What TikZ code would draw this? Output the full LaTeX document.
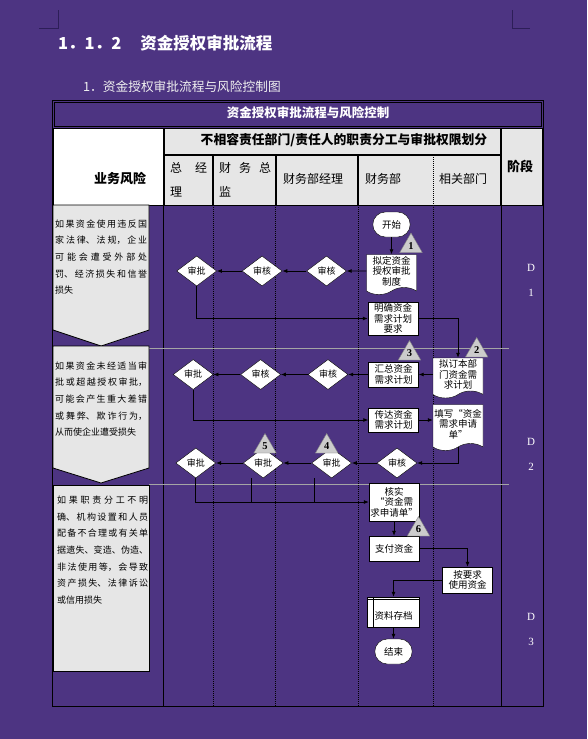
\documentclass[tikz,border=0pt]{standalone}
\usepackage{fontspec}
\setmainfont{Liberation Serif}
\newfontfamily\cjk{Noto Sans CJK SC}
\usetikzlibrary{positioning, arrows.meta, shapes.geometric, shapes.symbols, shapes.misc, calc}
\definecolor{bgpurple}{RGB}{77,52,130}
\definecolor{hdrgray}{RGB}{230,230,230}
\definecolor{rulegray}{RGB}{165,165,165}
\definecolor{markpurple}{RGB}{45,30,88}
\newcommand\risktext{\cjk\fontsize{9}{16.6}\selectfont\XeTeXlinebreaklocale "zh"\XeTeXlinebreakskip=0pt plus 4pt\relax}

\begin{document}
\begin{tikzpicture}[x=1pt, y=-1pt,
    every node/.style={font=\cjk\fontsize{9.5}{10.5}\selectfont},
    proc/.style={rectangle, draw, fill=white, minimum width=50pt, minimum height=25pt, inner sep=1pt, align=center},
    doc/.style={tape, tape bend top=none, tape bend height=7pt, draw, fill=white, minimum width=50pt, inner sep=1pt, align=center},
    term/.style={rounded rectangle, draw, fill=white, minimum width=44pt, minimum height=25pt},
    dec/.style={diamond, draw, fill=white, minimum width=40pt, minimum height=30pt, inner sep=0pt, font=\cjk\fontsize{9}{10}\selectfont},
    tri/.style={regular polygon, regular polygon sides=3, draw=gray, fill=gray!40, minimum size=26pt, inner sep=0pt, font=\rmfamily\bfseries\fontsize{10.5}{11}\selectfont},
    phase/.style={text=white, font=\rmfamily\fontsize{11}{11}\selectfont},
    colhead/.style={font=\cjk\fontsize{12}{24}\selectfont},
    risk/.style={draw, fill=hdrgray, line width=0.8pt},
    hdr/.style={draw, fill=hdrgray, line width=0.8pt},
    arrow/.style={-{Latex[length=5pt,width=4pt]}, line width=0.8pt},
    link/.style={line width=0.8pt},
    sep/.style={dash pattern=on 1pt off 1pt, line width=0.6pt}]

  \path[use as bounding box, fill=bgpurple] (0,0) rectangle (587,739);
  \draw[markpurple, line width=0.8pt] (39,28) -- (58,28) -- (58,10);
  \draw[markpurple, line width=0.8pt] (512,10) -- (512,28) -- (530,28);

  % titles
  \node[anchor=west, text=white, inner sep=0pt, font=\cjk\bfseries\fontsize{16.5}{18}\selectfont] (biaoti) at (58,43) {1．1．2\hspace{19pt}资金授权审批流程};
  \node[anchor=west, text=white!88!gray, inner sep=0pt, font=\cjk\fontsize{12.7}{14}\selectfont] (fubiaoti) at (83,87) {1．资金授权审批流程与风险控制图};

  % table frame and header
  \draw[line width=1pt] (52,100) rectangle (543,706);
  \draw[line width=0.8pt] (54,102) rectangle (541,126);
  \node[text=white, font=\cjk\bfseries\fontsize{12.5}{13}\selectfont] (biaotou) at (308,113) {资金授权审批流程与风险控制};
  \draw[fill=white, line width=0.8pt] (53,128) rectangle (163,205);
  \draw[hdr] (164,128) rectangle (500,154);
  \draw[hdr] (164,155) rectangle (212.5,205);
  \draw[hdr] (213.5,155) rectangle (275,205);
  \draw[hdr] (276,155) rectangle (357.5,205);
  \draw[hdr] (358.5,155) rectangle (500,205);
  \draw[sep] (433,155) -- (433,205);
  \draw[hdr] (501,128) rectangle (542,205);

  \node[font=\cjk\bfseries\fontsize{13}{14}\selectfont] (yewu) at (120,179) {业务风险};
  \node[font=\cjk\bfseries\fontsize{12.8}{14}\selectfont] (buxiang) at (344,140) {不相容责任部门/责任人的职责分工与审批权限划分};
  \node[colhead, anchor=north west, align=left, inner sep=0pt] (zongjingli) at (170,162) {总\hspace{13pt}经\\理};
  \node[colhead, anchor=north west, align=left, inner sep=0pt] (zongjian) at (219,162) {财\hspace{8pt}务\hspace{8pt}总\\监};
  \node[colhead] (jingli) at (313,179) {财务部经理};
  \node[colhead] (caiwubu) at (383,179) {财务部};
  \node[colhead] (xiangguan) at (463,179) {相关部门};
  \node[font=\cjk\bfseries\fontsize{13}{14}\selectfont] (jieduan) at (520,166) {阶段};

  % lanes
  \draw[line width=0.8pt] (163,205) -- (163,706);
  \draw[line width=0.8pt] (501,205) -- (501,706);
  \foreach \x in {213,275,358,433}
    \draw[sep] (\x,205) -- (\x,706);
  \draw[rulegray, line width=0.8pt] (149,348) -- (509,348);
  \draw[rulegray, line width=0.8pt] (149,484) -- (509,484);

  % risks
  \draw[risk] (53,205) -- (149,205) -- (149,330) -- (101,346) -- (53,330) -- cycle;
  \draw[risk] (53,346) -- (149,346) -- (149,468) -- (101,483) -- (53,468) -- cycle;
  \draw[risk] (53,485) rectangle (149,671);
  \node[anchor=north west, text width=92pt, align=justify, inner sep=0pt, font=\risktext] (risk1) at (55,219.5)
    {如果资金使用违反国\linebreak 家法律、法规，企业\linebreak 可能会遭受外部处\linebreak 罚、经济损失和信誉\linebreak 损失};
  \node[anchor=north west, text width=92pt, align=justify, inner sep=0pt, font=\risktext] (risk2) at (55,361.5)
    {如果资金未经适当审\linebreak 批或超越授权审批，\linebreak 可能会产生重大差错\linebreak 或舞弊、欺诈行为，\linebreak 从而使企业遭受损失};
  \node[anchor=north west, text width=91pt, align=justify, inner sep=0pt, font=\risktext] (risk3) at (57,496)
    {如果职责分工不明\linebreak 确、机构设置和人员\linebreak 配备不合理或有关单\linebreak 据遗失、变造、伪造、\linebreak 非法使用等，会导致\linebreak 资产损失、法律诉讼\linebreak 或信用损失};

  % flow, stage D1
  \node[term] (kaishi) at (391.5,224.5) {开始};
  \node[doc, minimum height=40pt] (zhidu) at (391.5,271) {拟定资金\\授权审批\\制度};
  \node[dec] (shenhe1) at (326.5,271) {审核};
  \node[dec, left=24pt of shenhe1] (shenhe2) {审核};
  \node[dec, left=25pt of shenhe2] (shenpi1) {审批};
  \node[proc, minimum height=33pt] (yaoqiu) at (393,318.5) {明确资金\\需求计划\\要求};

  % stage D2
  \node[doc, minimum height=40pt] (jihua) at (458,374.5) {拟订本部\\门资金需\\求计划};
  \node[proc] (huizong) at (393.5,374.5) {汇总资金\\需求计划};
  \node[dec] (shenhe3) at (328,374.5) {审核};
  \node[dec, left=27pt of shenhe3] (shenhe4) {审核};
  \node[dec, left=27pt of shenhe4] (shenpi2) {审批};
  \node[proc, minimum height=24pt] (chuanda) at (393.5,420) {传达资金\\需求计划};
  \node[doc, minimum height=46pt] (tianxie) at (458,424) {填写“资金\\需求申请\\单”};
  \node[dec] (shenhe5) at (397,463) {审核};
  \node[dec, left=25pt of shenhe5] (shenpi3) {审批};
  \node[dec, left=28pt of shenpi3] (shenpi4) {审批};
  \node[dec, left=27pt of shenpi4] (shenpi5) {审批};

  % stage D3
  \node[proc, minimum height=38pt] (heshi) at (394,502) {核实\\“资金需\\求申请单”};
  \node[proc] (zhifu) at (394,548.5) {支付资金};
  \node[proc, minimum height=26pt] (shiyong) at (467.5,580) {按要求\\使用资金};
  \node[proc, minimum width=52pt, minimum height=30pt, text height=15pt, text depth=1pt] (cundang) at (393.5,612) {资料存档};
  \draw[line width=0.8pt] ([xshift=6pt]cundang.north west) -- ([xshift=6pt]cundang.south west);
  \draw[line width=0.8pt] ([yshift=-3pt]cundang.north west) -- ([yshift=-3pt]cundang.north east);
  \node[term] (jieshu) at (393.5,651.5) {结束};

  \coordinate (j4) at (251,502);
  \coordinate (j3) at (314,502);

  \draw[arrow] (kaishi) -- (zhidu);
  \draw[arrow] (zhidu) -- (shenhe1);
  \draw[arrow] (shenhe1) -- (shenhe2);
  \draw[arrow] (shenhe2) -- (shenpi1);
  \draw[arrow] (shenpi1) |- (yaoqiu);
  \draw[arrow] (yaoqiu) -| (jihua);
  \draw[arrow] (jihua) -- (huizong);
  \draw[arrow] (huizong) -- (shenhe3);
  \draw[arrow] (shenhe3) -- (shenhe4);
  \draw[arrow] (shenhe4) -- (shenpi2);
  \draw[arrow] (shenpi2) |- (chuanda);
  \draw[arrow] (chuanda) -- (chuanda -| tianxie.west);
  \draw[arrow] (tianxie) |- (shenhe5);
  \draw[arrow] (shenhe5) -- (shenpi3);
  \draw[arrow] (shenpi3) -- (shenpi4);
  \draw[arrow] (shenpi4) -- (shenpi5);
  \draw[arrow] (shenpi5) |- (heshi);
  \draw[link] (shenpi4.south -| j4) -- (j4);
  \draw[link] (shenpi3.south -| j3) -- (j3);
  \draw[arrow] (heshi) -- (zhifu);
  \draw[arrow] (zhifu) -| (shiyong);
  \draw[arrow] (shiyong) -| (cundang);
  \draw[arrow] (cundang) -- (jieshu);

  % control points
  \node[tri] (k1) at (411,246) {1};
  \node[tri] (k2) at (476.7,350.5) {2};
  \node[tri] (k3) at (409.5,353.5) {3};
  \node[tri] (k4) at (326.7,446.5) {4};
  \node[tri] (k5) at (265,446.5) {5};
  \node[tri] (k6) at (418.5,529.5) {6};

  % stages
  \node[phase] (d1) at (531,268) {D};
  \node[phase] (n1) at (531,293) {1};
  \node[phase] (d2) at (531,442) {D};
  \node[phase] (n2) at (531,467) {2};
  \node[phase] (d3) at (531,617) {D};
  \node[phase] (n3) at (531,642) {3};
\end{tikzpicture}
\end{document}
